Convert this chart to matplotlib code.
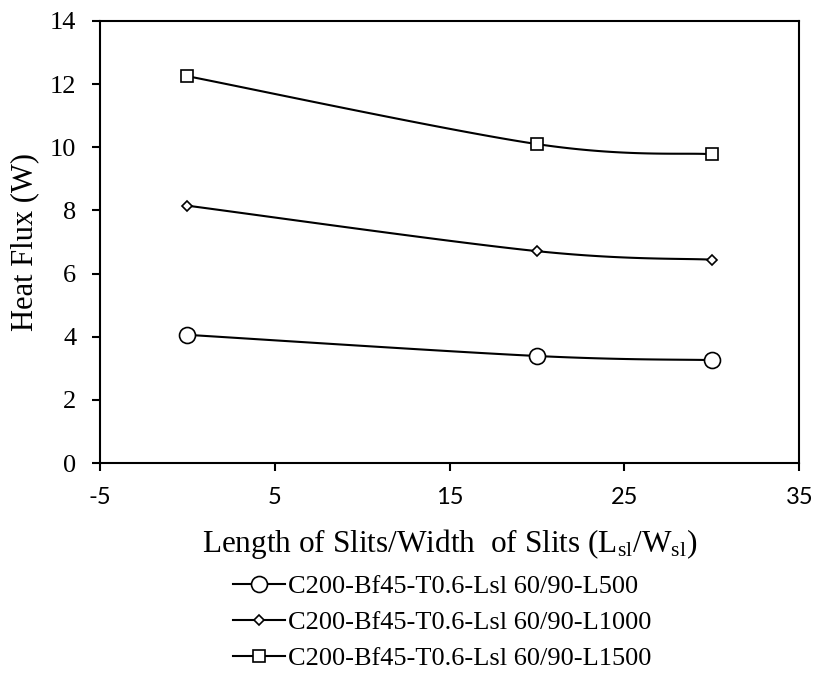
import numpy as np
import matplotlib
matplotlib.use("Agg")
import matplotlib.pyplot as plt

# Data
ratio = [0, 20, 30]
flux_l500 = [4.06, 3.39, 3.26]
flux_l1000 = [8.15, 6.71, 6.44]
flux_l1500 = [12.25, 10.10, 9.78]
labels = [
    "C200-Bf45-T0.6-Lsl 60/90-L500",
    "C200-Bf45-T0.6-Lsl 60/90-L1000",
    "C200-Bf45-T0.6-Lsl 60/90-L1500",
]
x_ticks = [-5, 5, 15, 25, 35]
y_ticks = [0, 2, 4, 6, 8, 10, 12, 14]

plt.rcParams["mathtext.fontset"] = "custom"
plt.rcParams["mathtext.rm"] = "Liberation Serif"
plt.rcParams["mathtext.it"] = "Liberation Serif:italic"

SERIF = "Liberation Serif"


def smooth(xs, ys, n=60):
    """Bezier smoothing through the points (Catmull-Rom control points)."""
    p = np.column_stack([xs, ys]).astype(float)
    ext = np.vstack([p[0], p, p[-1]])
    out = []
    t = np.linspace(0, 1, n)[:, None]
    for i in range(len(p) - 1):
        p0, p1, p2, p3 = ext[i], ext[i + 1], ext[i + 2], ext[i + 3]
        c1 = p1 + (p2 - p0) / 6.0
        c2 = p2 - (p3 - p1) / 6.0
        seg = ((1 - t) ** 3) * p1 + 3 * ((1 - t) ** 2) * t * c1 + 3 * (1 - t) * t ** 2 * c2 + t ** 3 * p2
        out.append(seg if i == 0 else seg[1:])
    s = np.vstack(out)
    return s[:, 0], s[:, 1]


fig = plt.figure(figsize=(8.16, 6.75), dpi=100)
ax = fig.add_axes([0.1225, 0.314, 0.857, 0.655])

series = [
    (flux_l500, "o", 11.5),
    (flux_l1000, "D", 5.5),
    (flux_l1500, "s", 8),
]
handles = []
for (ys, mk, ms), lab in zip(series, labels):
    sx, sy = smooth(ratio, ys)
    ax.plot(sx, sy, color="black", lw=1.5, zorder=2)
    ax.plot(ratio, ys, ls="none", marker=mk, ms=ms, mfc="white", mec="black",
            mew=1.2, zorder=3)
    h, = ax.plot([], [], color="black", lw=1.5, marker=mk, ms=ms, mfc="white",
                 mec="black", mew=1.2, label=lab)
    handles.append(h)

ax.set_xlim(-5, 35)
ax.set_ylim(0, 14)
ax.set_xticks(x_ticks)
ax.set_yticks(y_ticks)
ax.set_xticklabels([str(v) for v in x_ticks], fontfamily="Lato", fontsize=17)
ax.set_yticklabels([str(v) for v in y_ticks], fontfamily=SERIF, fontsize=19)
ax.tick_params(axis="both", direction="out", length=6, width=1.5, color="black")
ax.tick_params(axis="x", pad=11)
ax.tick_params(axis="y", pad=11)
for side in ["left", "bottom", "right", "top"]:
    ax.spines[side].set_linewidth(1.5)
    ax.spines[side].set_color("black")

ax.set_ylabel("Heat Flux (W)", fontfamily=SERIF, fontsize=22, labelpad=8)
ax.set_xlabel(r"Length of Slits/Width  of Slits (L$_{\mathrm{sl}}$/W$_{\mathrm{sl}}$)",
              fontfamily=SERIF, fontsize=22.5, labelpad=14)

fig.legend(handles=handles, loc="upper left", bbox_to_anchor=(0.273, 0.164),
           frameon=False, prop={"family": SERIF, "size": 19},
           handlelength=1.97, handletextpad=0.11, labelspacing=0.47,
           borderaxespad=0)

fig.savefig("out.png", dpi=100)
